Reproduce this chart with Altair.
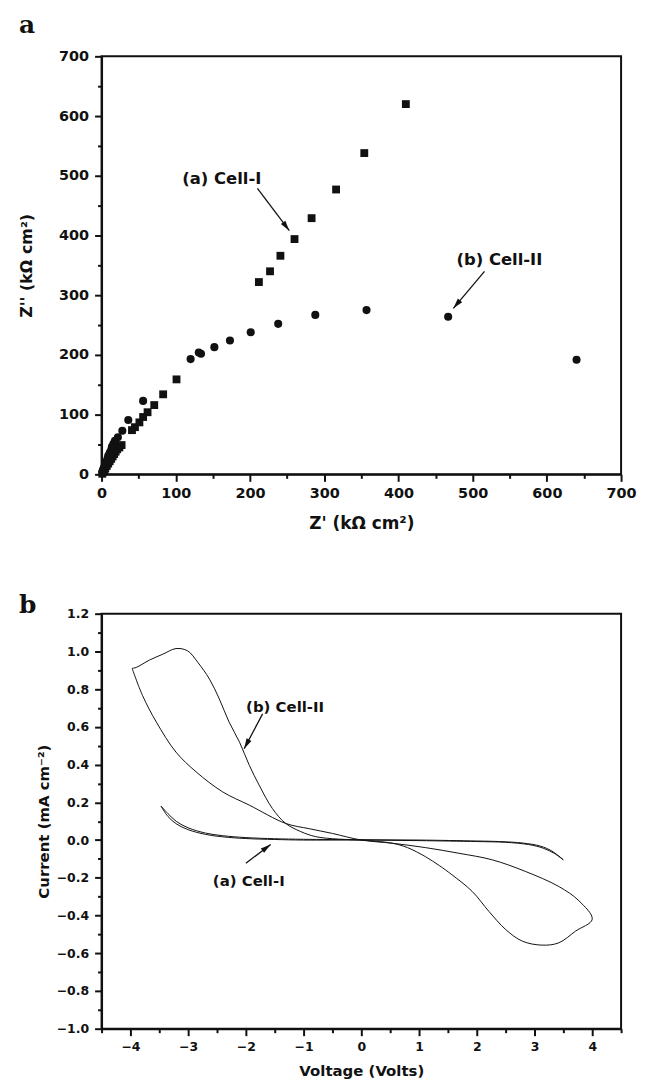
import math
import altair as alt
import pandas as pd

# ---------------- Panel a: impedance (Nyquist) data ----------------
cell1_zre = [1, 2, 4, 5, 7, 9, 11, 13, 15, 17, 19, 21, 24, 27,
             41, 45, 51, 56, 62, 71, 83, 101,
             212, 227, 241, 260, 283, 316, 354, 410]
cell1_zim = [1, 4, 7, 10, 14, 18, 22, 26, 30, 34, 38, 42, 45, 49,
             74, 79, 87, 96, 104, 116, 134, 159,
             322, 340, 366, 394, 429, 477, 538, 620]

cell2_zre = [1, 2, 3, 5, 6, 8, 9, 11, 13, 14, 16, 18, 22, 28, 36, 56,
             120, 131, 134, 152, 173, 201, 238, 288, 357, 467, 640]
cell2_zim = [3, 7, 11, 16, 21, 26, 31, 36, 41, 46, 51, 56, 62, 73, 91, 123,
             193, 204, 202, 213, 224, 238, 252, 267, 275, 264, 192]

top_labels = ["(a) Cell-I", "(b) Cell-II"]
top_label_x = [162, 536]
top_label_y = [487, 350]
top_arrow_x1 = [210, 516]
top_arrow_y1 = [479, 340]
top_arrow_x2 = [253, 474]
top_arrow_y2 = [408, 278]

# ---------------- Panel b: cyclic voltammetry data ----------------
cell1_v = [-3.47, -3.35, -3.2, -3.0, -2.7, -2.4, -2.0, -1.5, -1.0, 0.0, 1.0, 2.0, 2.5, 2.9,
           3.15, 3.35, 3.5,
           3.3, 3.1, 2.8, 2.4, 2.0, 1.0, 0.0, -1.0, -1.5, -2.0, -2.4, -2.7, -3.0, -3.2,
           -3.35, -3.47]
cell1_i = [0.18, 0.125, 0.085, 0.055, 0.03, 0.017, 0.008, 0.003, 0.0, 0.0, -0.003, -0.008,
           -0.012, -0.024, -0.043, -0.072, -0.105,
           -0.058, -0.032, -0.016, -0.008, -0.005, 0.0, 0.002, 0.004, 0.007, 0.013, 0.023,
           0.037, 0.065, 0.098, 0.14, 0.18]

cell2_v = [-3.97, -3.90, -3.67, -3.44, -3.21, -3.01, -2.83, -2.63, -2.46, -2.29, -2.11,
           -1.94, -1.77, -1.54, -1.31, -1.05, -0.79, -0.40, 0.0, 0.31, 0.54, 0.80, 1.11,
           1.35, 1.57, 1.92, 2.21, 2.50, 2.79, 3.13, 3.42, 3.71, 4.0,
           3.77, 3.42, 2.84, 2.27, 1.69, 1.11, 0.54, 0.0, -0.50, -0.90, -1.31, -1.94,
           -2.40, -2.86, -3.21, -3.55, -3.79, -3.97]
cell2_i = [0.91, 0.915, 0.954, 0.985, 1.015, 1.003, 0.941, 0.853, 0.748, 0.625, 0.519,
           0.396, 0.291, 0.167, 0.088, 0.045, 0.018, 0.005, 0.0, -0.008, -0.017, -0.040,
           -0.088, -0.135, -0.184, -0.272, -0.378, -0.474, -0.536, -0.557, -0.545, -0.483,
           -0.42,
           -0.322, -0.246, -0.166, -0.105, -0.070, -0.040, -0.017, 0.0, 0.035, 0.060,
           0.088, 0.185, 0.255, 0.361, 0.466, 0.625, 0.766, 0.91]

bot_labels = ["(b) Cell-II", "(a) Cell-I"]
bot_label_x = [-1.32, -1.95]
bot_label_y = [0.678, -0.246]
bot_arrow_x1 = [-1.71, -2.0]
bot_arrow_y1 = [0.669, -0.123]
bot_arrow_x2 = [-2.03, -1.57]
bot_arrow_y2 = [0.484, -0.023]

# ---------------- styling ----------------
W1, H1 = 522, 420
W2, H2 = 522, 417
FONT = "DejaVu Sans"
INK = "#111111"
HEAD = "M0,0L-0.7,2.6L0.7,2.6Z"


def angles(x1, y1, x2, y2, sx, sy):
    out = []
    for a, b, c, d in zip(x1, y1, x2, y2):
        dx = (c - a) * sx
        dy = -(d - b) * sy
        out.append(math.degrees(math.atan2(dx, -dy)) % 360)
    return out


def axis_major(orient, values, title, label_size, title_size, label_pad, title_pad, fmt=None):
    kw = dict(orient=orient, values=values, title=title, tickSize=7, tickWidth=2,
              domainWidth=2, labelFontSize=label_size, titleFontSize=title_size,
              labelPadding=label_pad, titlePadding=title_pad, grid=False,
              labelFlush=False, labelOverlap=False)
    if fmt:
        kw["format"] = fmt
    return alt.Axis(**kw)


def axis_minor(orient, values):
    return alt.Axis(orient=orient, values=values, title=None, labels=False, domain=False,
                    tickSize=4, tickWidth=2, grid=False)


def panel(df_a, df_b, line_mode, xs, ys, xmaj, ymaj, xmin, ymin,
          ann, arr, ann_size, letter, letter_x, letter_y, w, h):
    layers = []
    if line_mode:
        layers.append(alt.Chart(df_a).mark_line(color=INK, strokeWidth=1,
                                                interpolate="catmull-rom").encode(
            x=alt.X("x:Q", scale=xs, axis=xmaj),
            y=alt.Y("y:Q", scale=ys, axis=ymaj),
            order="i:Q"))
        layers.append(alt.Chart(df_b).mark_line(color=INK, strokeWidth=1,
                                                interpolate="catmull-rom").encode(
            x=alt.X("x:Q", scale=xs, axis=None),
            y=alt.Y("y:Q", scale=ys, axis=None),
            order="i:Q"))
    else:
        layers.append(alt.Chart(df_a).mark_point(shape="square", filled=True, size=62,
                                                 color=INK, opacity=1).encode(
            x=alt.X("x:Q", scale=xs, axis=xmaj),
            y=alt.Y("y:Q", scale=ys, axis=ymaj)))
        layers.append(alt.Chart(df_b).mark_circle(size=66, color=INK, opacity=1).encode(
            x=alt.X("x:Q", scale=xs, axis=None),
            y=alt.Y("y:Q", scale=ys, axis=None)))
    layers.append(alt.Chart(df_a).mark_point(opacity=0).encode(
        x=alt.X("x:Q", scale=xs, axis=xmin),
        y=alt.Y("y:Q", scale=ys, axis=ymin)))
    layers.append(alt.Chart(ann).mark_text(font=FONT, fontWeight="bold", fontSize=ann_size,
                                           align="center", baseline="alphabetic",
                                           color=INK).encode(
        x=alt.X("x:Q", scale=xs, axis=None),
        y=alt.Y("y:Q", scale=ys, axis=None),
        text="label:N"))
    layers.append(alt.Chart(arr).mark_rule(color=INK, strokeWidth=1.3).encode(
        x=alt.X("x1:Q", scale=xs, axis=None),
        y=alt.Y("y1:Q", scale=ys, axis=None),
        x2="x2:Q", y2="y2:Q"))
    layers.append(alt.Chart(arr).mark_point(shape=HEAD, filled=True, size=64,
                                            color=INK, opacity=1, strokeWidth=0).encode(
        x=alt.X("x2:Q", scale=xs, axis=None),
        y=alt.Y("y2:Q", scale=ys, axis=None),
        angle=alt.Angle("ang:Q", scale=None)))
    layers.append(alt.Chart(pd.DataFrame({"t": [letter]})).mark_text(
        font="DejaVu Serif", fontWeight="bold", fontSize=25, align="left",
        baseline="alphabetic", color=INK).encode(
        text="t:N", x=alt.value(letter_x), y=alt.value(letter_y)))
    return alt.layer(*layers).resolve_axis(x="independent", y="independent").properties(
        width=w, height=h)


# ---- top panel ----
df_sq = pd.DataFrame({"x": cell1_zre, "y": cell1_zim})
df_ci = pd.DataFrame({"x": cell2_zre, "y": cell2_zim})
ann_top = pd.DataFrame({"label": top_labels, "x": top_label_x, "y": top_label_y})
arr_top = pd.DataFrame({"x1": top_arrow_x1, "y1": top_arrow_y1,
                        "x2": top_arrow_x2, "y2": top_arrow_y2,
                        "ang": angles(top_arrow_x1, top_arrow_y1, top_arrow_x2,
                                      top_arrow_y2, W1 / 700, H1 / 700)})
xs1 = alt.Scale(domain=[0, 700], nice=False, zero=False)
ys1 = alt.Scale(domain=[0, 700], nice=False, zero=False)
maj100 = list(range(0, 701, 100))
min50 = list(range(50, 700, 100))
top = panel(df_sq, df_ci, False, xs1, ys1,
            axis_major("bottom", maj100, "Z' (kΩ cm²)", 14.5, 17, 5, 16),
            axis_major("left", maj100, "Z'' (kΩ cm²)", 14.5, 16, 6, 24),
            axis_minor("bottom", min50), axis_minor("left", min50),
            ann_top, arr_top, 16.5, "a", -83, -23, W1, H1)

# ---- bottom panel ----
df_c1 = pd.DataFrame({"x": cell1_v, "y": cell1_i, "i": range(len(cell1_v))})
df_c2 = pd.DataFrame({"x": cell2_v, "y": cell2_i, "i": range(len(cell2_v))})
ann_bot = pd.DataFrame({"label": bot_labels, "x": bot_label_x, "y": bot_label_y})
arr_bot = pd.DataFrame({"x1": bot_arrow_x1, "y1": bot_arrow_y1,
                        "x2": bot_arrow_x2, "y2": bot_arrow_y2,
                        "ang": angles(bot_arrow_x1, bot_arrow_y1, bot_arrow_x2,
                                      bot_arrow_y2, W2 / 9, H2 / 2.2)})
xs2 = alt.Scale(domain=[-4.5, 4.5], nice=False, zero=False)
ys2 = alt.Scale(domain=[-1.0, 1.2], nice=False, zero=False)
xmaj2 = [-4, -3, -2, -1, 0, 1, 2, 3, 4]
xmin2 = [-4.5, -3.5, -2.5, -1.5, -0.5, 0.5, 1.5, 2.5, 3.5, 4.5]
ymaj2 = [-1.0, -0.8, -0.6, -0.4, -0.2, 0.0, 0.2, 0.4, 0.6, 0.8, 1.0, 1.2]
ymin2 = [-0.9, -0.7, -0.5, -0.3, -0.1, 0.1, 0.3, 0.5, 0.7, 0.9, 1.1]
bottom = panel(df_c1, df_c2, True, xs2, ys2,
               axis_major("bottom", xmaj2, "Voltage (Volts)", 12.5, 15, 5, 11, "d"),
               axis_major("left", ymaj2, "Current (mA cm⁻²)", 12.5, 15, 6, 5, ".1f"),
               axis_minor("bottom", xmin2), axis_minor("left", ymin2),
               ann_bot, arr_bot, 15, "b", -83, -1, W2, H2)

chart = alt.vconcat(top, bottom, spacing=59).properties(
    padding={"left": 9, "top": 2, "right": 0, "bottom": 0}
).configure_view(stroke=INK, strokeWidth=2).configure_axis(
    domainColor=INK, tickColor=INK, labelColor=INK, titleColor=INK,
    labelFont=FONT, titleFont=FONT, labelFontWeight="bold", titleFontWeight="bold"
)

chart.save("out.html", embed_options={"renderer": "svg", "actions": False})
